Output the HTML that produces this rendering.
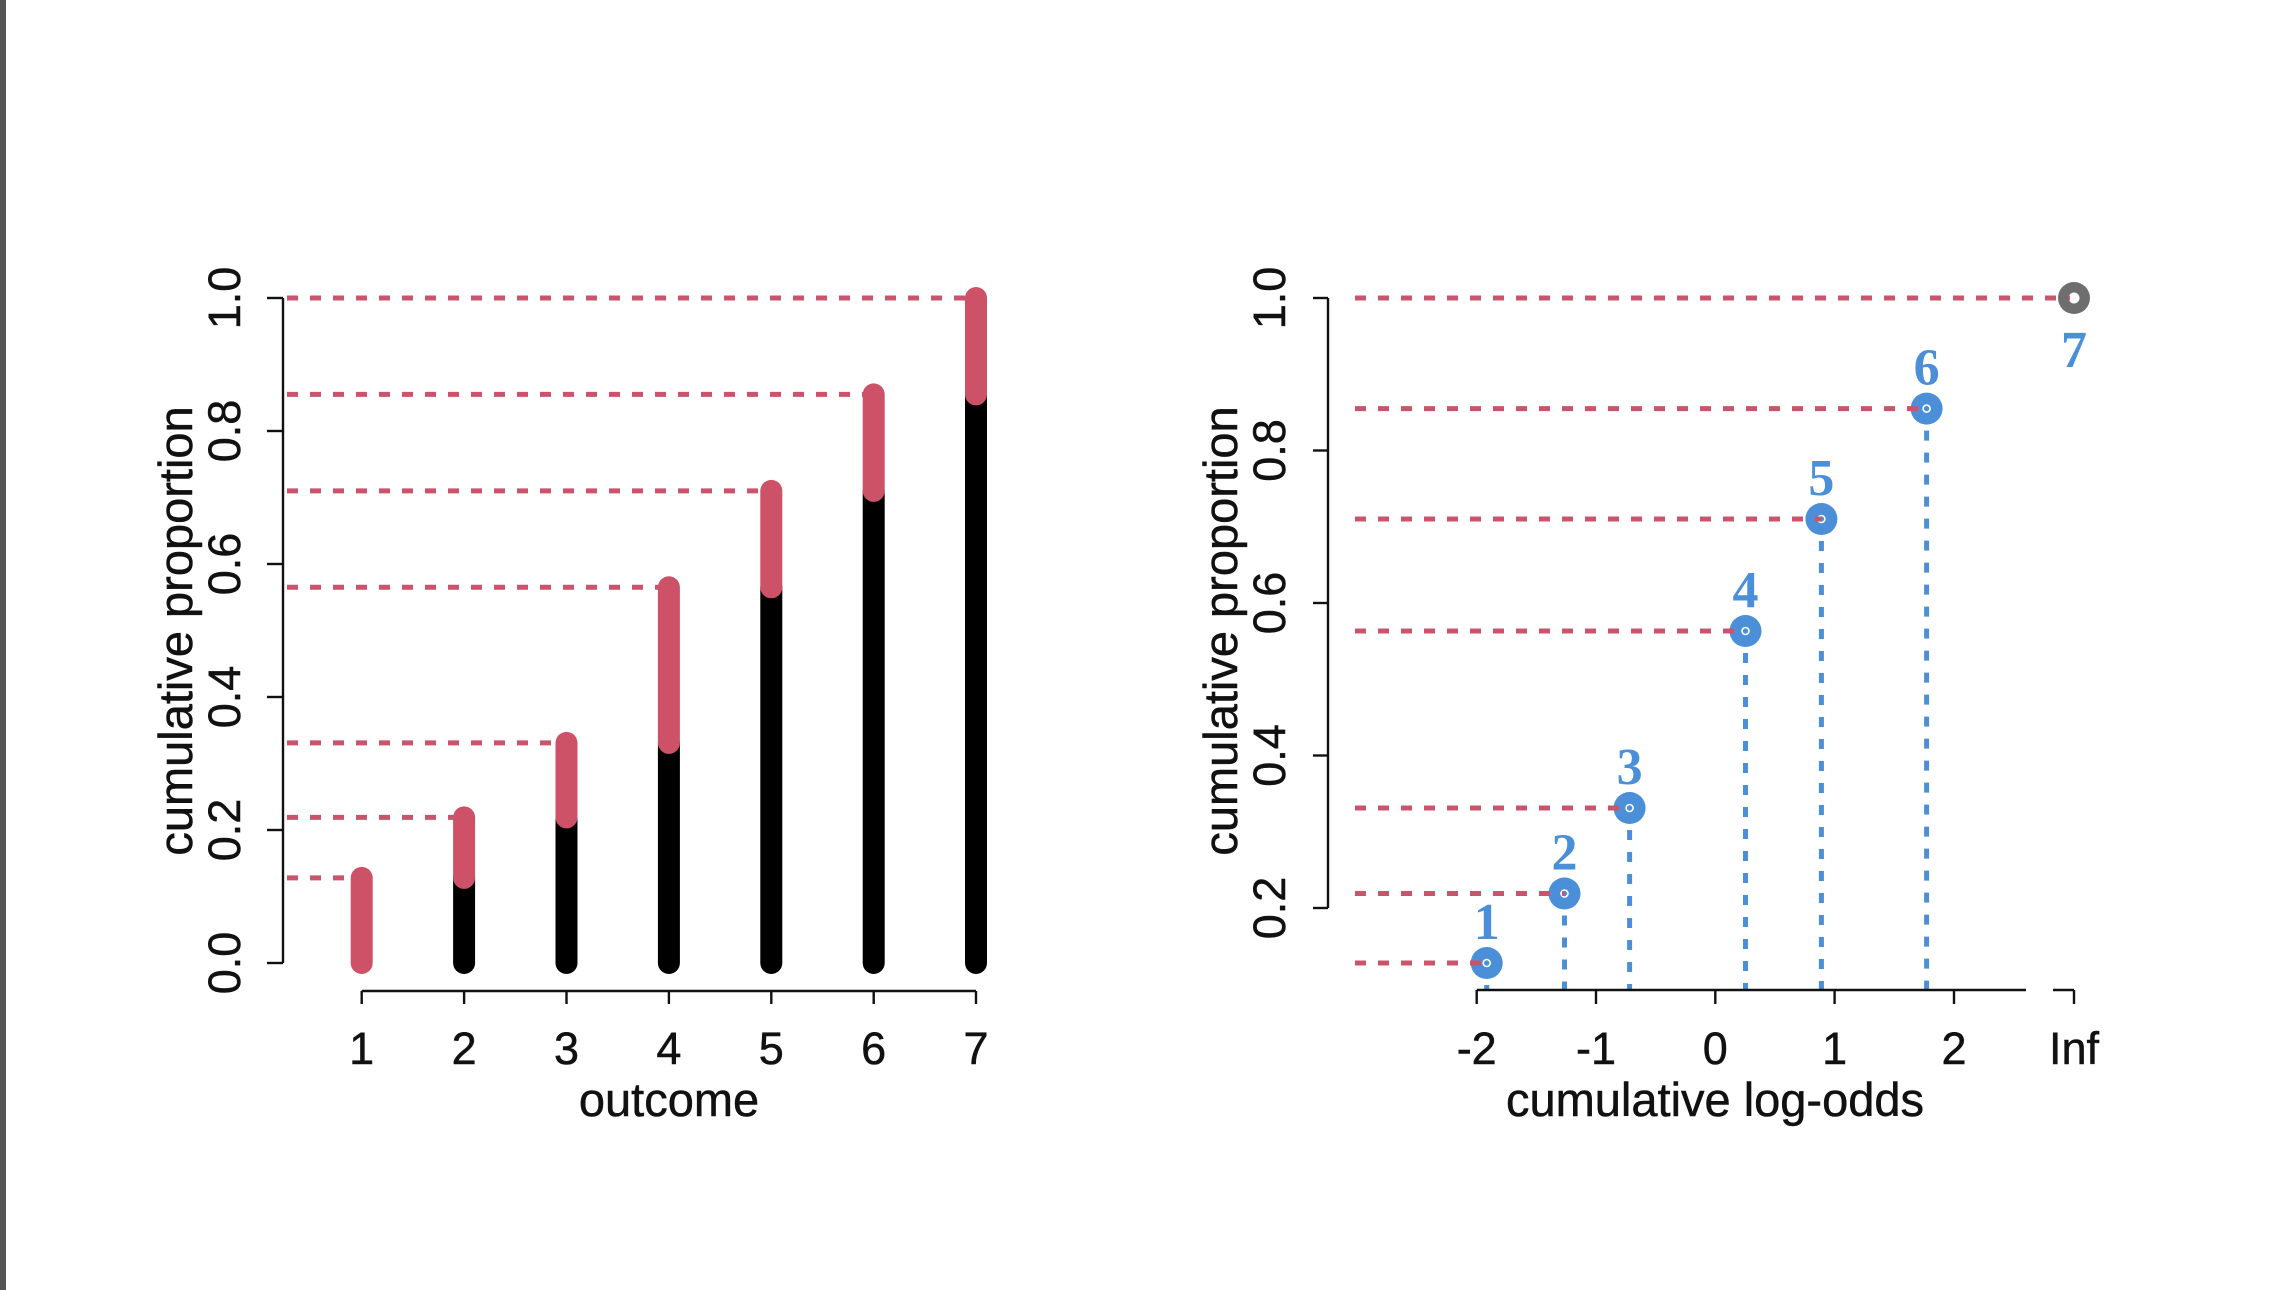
<!DOCTYPE html>
<html>
<head>
<meta charset="utf-8">
<style>
  html, body { margin: 0; padding: 0; background: #ffffff; }
  body { width: 2287px; height: 1290px; overflow: hidden; position: relative; }
  svg { position: absolute; left: 0; top: 0; }
  .t { font-family: "Liberation Sans", Arial, sans-serif; font-size: 45px; fill: #111; stroke: #111; stroke-width: 0.5; }
  .ttl { font-size: 47px; }
  .n { font-family: "Liberation Serif", "Times New Roman", serif; font-size: 52px; font-weight: bold; fill: #4a8fd8; }
</style>
</head>
<body>
<svg width="2287" height="1290" viewBox="0 0 2287 1290" xmlns="http://www.w3.org/2000/svg">
  <rect x="0" y="0" width="2287" height="1290" fill="#ffffff"/>
  <rect x="0" y="0" width="6" height="1290" fill="#555555"/>

  <!-- ================= LEFT PLOT ================= -->
  <g stroke="#c9546b" stroke-width="5" stroke-dasharray="11 12" fill="none">
    <line x1="287" y1="877.9" x2="361.7" y2="877.9"/>
    <line x1="287" y1="817.4" x2="464.1" y2="817.4"/>
    <line x1="287" y1="742.9" x2="566.5" y2="742.9"/>
    <line x1="287" y1="587.3" x2="668.9" y2="587.3"/>
    <line x1="287" y1="490.9" x2="771.3" y2="490.9"/>
    <line x1="287" y1="394.4" x2="873.7" y2="394.4"/>
    <line x1="287" y1="298" x2="976" y2="298"/>
  </g>
  <g stroke="#000" stroke-width="22" stroke-linecap="round">
    <line x1="464.1" y1="963" x2="464.1" y2="877.9"/>
    <line x1="566.5" y1="963" x2="566.5" y2="817.4"/>
    <line x1="668.9" y1="963" x2="668.9" y2="742.9"/>
    <line x1="771.3" y1="963" x2="771.3" y2="587.3"/>
    <line x1="873.7" y1="963" x2="873.7" y2="490.9"/>
    <line x1="976" y1="963" x2="976" y2="394.4"/>
  </g>
  <g stroke="#cd5267" stroke-width="22" stroke-linecap="round">
    <line x1="361.7" y1="963" x2="361.7" y2="877.9"/>
    <line x1="464.1" y1="877.9" x2="464.1" y2="817.4"/>
    <line x1="566.5" y1="817.4" x2="566.5" y2="742.9"/>
    <line x1="668.9" y1="742.9" x2="668.9" y2="587.3"/>
    <line x1="771.3" y1="587.3" x2="771.3" y2="490.9"/>
    <line x1="873.7" y1="490.9" x2="873.7" y2="394.4"/>
    <line x1="976" y1="394.4" x2="976" y2="298"/>
  </g>
  <g stroke="#111" stroke-width="2.4" fill="none">
    <line x1="283" y1="298" x2="283" y2="963"/>
    <line x1="267" y1="963" x2="283" y2="963"/>
    <line x1="267" y1="830" x2="283" y2="830"/>
    <line x1="267" y1="697" x2="283" y2="697"/>
    <line x1="267" y1="564" x2="283" y2="564"/>
    <line x1="267" y1="431" x2="283" y2="431"/>
    <line x1="267" y1="298" x2="283" y2="298"/>

    <line x1="361.7" y1="991" x2="976" y2="991"/>
    <line x1="361.7" y1="991" x2="361.7" y2="1004"/>
    <line x1="464.1" y1="991" x2="464.1" y2="1004"/>
    <line x1="566.5" y1="991" x2="566.5" y2="1004"/>
    <line x1="668.9" y1="991" x2="668.9" y2="1004"/>
    <line x1="771.3" y1="991" x2="771.3" y2="1004"/>
    <line x1="873.7" y1="991" x2="873.7" y2="1004"/>
    <line x1="976" y1="991" x2="976" y2="1004"/>
  </g>
  <g class="t" text-anchor="middle">
    <text transform="translate(240,963) rotate(-90)">0.0</text>
    <text transform="translate(240,830) rotate(-90)">0.2</text>
    <text transform="translate(240,697) rotate(-90)">0.4</text>
    <text transform="translate(240,564) rotate(-90)">0.6</text>
    <text transform="translate(240,431) rotate(-90)">0.8</text>
    <text transform="translate(240,298) rotate(-90)">1.0</text>
    <text class="ttl" transform="translate(192,631) rotate(-90)">cumulative proportion</text>
  </g>
  <g class="t" text-anchor="middle">
    <text x="361.7" y="1064">1</text>
    <text x="464.1" y="1064">2</text>
    <text x="566.5" y="1064">3</text>
    <text x="668.9" y="1064">4</text>
    <text x="771.3" y="1064">5</text>
    <text x="873.7" y="1064">6</text>
    <text x="976" y="1064">7</text>
    <text class="ttl" x="669" y="1116">outcome</text>
  </g>

  <!-- ================= RIGHT PLOT ================= -->
  <g stroke="#4a8fd8" stroke-width="5" stroke-dasharray="10 12" fill="none">
    <line x1="1486.7" y1="963" x2="1486.7" y2="990"/>
    <line x1="1564.5" y1="893.5" x2="1564.5" y2="990"/>
    <line x1="1629.6" y1="808" x2="1629.6" y2="990"/>
    <line x1="1745.5" y1="631" x2="1745.5" y2="990"/>
    <line x1="1821.4" y1="519" x2="1821.4" y2="990"/>
    <line x1="1926.6" y1="408.6" x2="1926.6" y2="990"/>
  </g>
  <g fill="#4a8fd8">
    <circle cx="1486.7" cy="963" r="16"/>
    <circle cx="1564.5" cy="893.5" r="16"/>
    <circle cx="1629.6" cy="808" r="16"/>
    <circle cx="1745.5" cy="631" r="16"/>
    <circle cx="1821.4" cy="519" r="16"/>
    <circle cx="1926.6" cy="408.6" r="16"/>
  </g>
  <circle cx="2074" cy="298" r="16" fill="#6e6e6e"/>
  <circle cx="2074" cy="298" r="5.5" fill="#ffffff"/>
  <g stroke="#ffffff" stroke-width="1.6" fill="none">
    <circle cx="1486.7" cy="963" r="3.5"/>
    <circle cx="1564.5" cy="893.5" r="3.5"/>
    <circle cx="1629.6" cy="808" r="3.5"/>
    <circle cx="1745.5" cy="631" r="3.5"/>
    <circle cx="1821.4" cy="519" r="3.5"/>
    <circle cx="1926.6" cy="408.6" r="3.5"/>
  </g>
  <g stroke="#c9546b" stroke-width="5" stroke-dasharray="11 12" fill="none">
    <line x1="1355" y1="963" x2="1486.7" y2="963"/>
    <line x1="1355" y1="893.5" x2="1564.5" y2="893.5"/>
    <line x1="1355" y1="808" x2="1629.6" y2="808"/>
    <line x1="1355" y1="631" x2="1745.5" y2="631"/>
    <line x1="1355" y1="519" x2="1821.4" y2="519"/>
    <line x1="1355" y1="408.6" x2="1926.6" y2="408.6"/>
    <line x1="1355" y1="298" x2="2070" y2="298"/>
  </g>
  <g stroke="#111" stroke-width="2.4" fill="none">
    <line x1="1328" y1="298" x2="1328" y2="908"/>
    <line x1="1313" y1="908" x2="1328" y2="908"/>
    <line x1="1313" y1="755.5" x2="1328" y2="755.5"/>
    <line x1="1313" y1="603" x2="1328" y2="603"/>
    <line x1="1313" y1="450.5" x2="1328" y2="450.5"/>
    <line x1="1313" y1="298" x2="1328" y2="298"/>

    <line x1="1476.7" y1="990" x2="2026" y2="990"/>
    <line x1="1476.7" y1="990" x2="1476.7" y2="1004"/>
    <line x1="1596" y1="990" x2="1596" y2="1004"/>
    <line x1="1715.3" y1="990" x2="1715.3" y2="1004"/>
    <line x1="1834.6" y1="990" x2="1834.6" y2="1004"/>
    <line x1="1954" y1="990" x2="1954" y2="1004"/>
    <line x1="2053" y1="990" x2="2074" y2="990"/>
    <line x1="2074" y1="990" x2="2074" y2="1004"/>
  </g>
  <g class="t" text-anchor="middle">
    <text transform="translate(1285,908) rotate(-90)">0.2</text>
    <text transform="translate(1285,755.5) rotate(-90)">0.4</text>
    <text transform="translate(1285,603) rotate(-90)">0.6</text>
    <text transform="translate(1285,450.5) rotate(-90)">0.8</text>
    <text transform="translate(1285,298) rotate(-90)">1.0</text>
    <text class="ttl" transform="translate(1237,631) rotate(-90)">cumulative proportion</text>
  </g>
  <g class="t" text-anchor="middle">
    <text x="1476.7" y="1064">-2</text>
    <text x="1596" y="1064">-1</text>
    <text x="1715.3" y="1064">0</text>
    <text x="1834.6" y="1064">1</text>
    <text x="1954" y="1064">2</text>
    <text x="2074" y="1064">Inf</text>
    <text class="ttl" x="1715" y="1116">cumulative log-odds</text>
  </g>
  <g class="n" text-anchor="middle">
    <text x="1486.7" y="939">1</text>
    <text x="1564.5" y="869.5">2</text>
    <text x="1629.6" y="784">3</text>
    <text x="1745.5" y="607">4</text>
    <text x="1821.4" y="495">5</text>
    <text x="1926.6" y="384.6">6</text>
    <text x="2074" y="367">7</text>
  </g>
</svg>
</body>
</html>
